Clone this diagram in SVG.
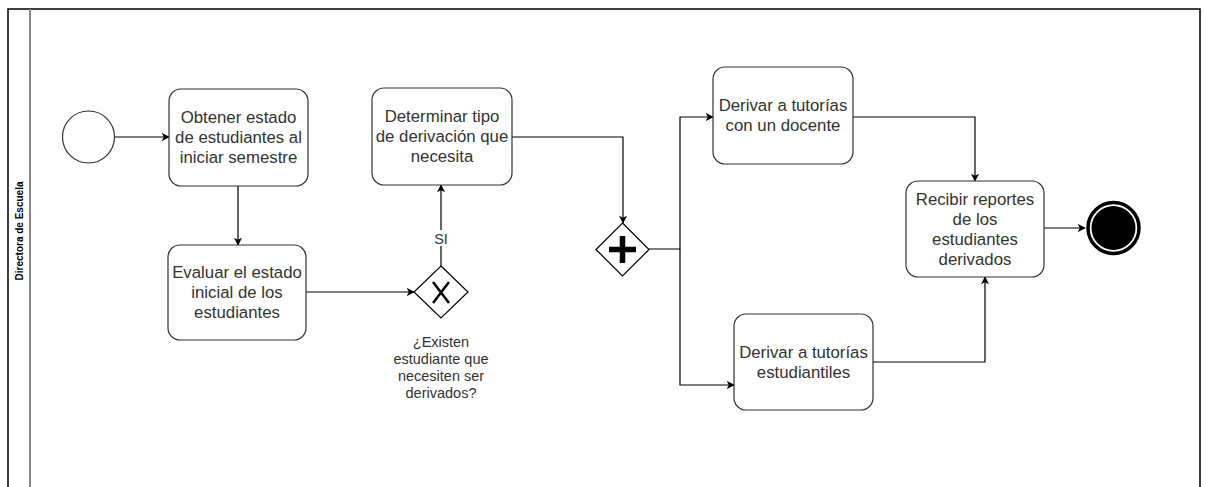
<svg xmlns="http://www.w3.org/2000/svg" width="1206" height="487" viewBox="0 0 1206 487">
<defs>
<marker id="arr" viewBox="0 0 10 10" refX="9" refY="5" markerWidth="8" markerHeight="8" markerUnits="userSpaceOnUse" orient="auto">
<path d="M0,0 L10,5 L0,10 L2.5,5 Z" fill="#000"/>
</marker>
<style>
.task{fill:#fff;stroke:#333;stroke-width:1.2}
.t{font-family:"Liberation Sans",Arial,sans-serif;font-size:16.8px;fill:#333;text-anchor:middle}
.s{font-family:"Liberation Sans",Arial,sans-serif;font-size:14.5px;fill:#333;text-anchor:middle}
.c{fill:none;stroke:#000;stroke-width:1.2;marker-end:url(#arr)}
.gw{fill:#fff;stroke:#000;stroke-width:1.2}
</style>
</defs>
<rect width="1206" height="487" fill="#fff"/>
<g id="pool">
<rect x="8" y="9" width="1192" height="500" fill="none" stroke="#000" stroke-width="1.5"/>
<line x1="30" y1="9" x2="30" y2="490" stroke="#888" stroke-width="2"/>
<text transform="translate(22.5,231) rotate(-90)" font-family="'Liberation Sans',Arial,sans-serif" font-size="10" font-weight="bold" fill="#000" text-anchor="middle">Directora de Escuela</text>
</g>
<g id="connectors">
<line class="c" x1="114.5" y1="137" x2="169" y2="137"/>
<line class="c" x1="238" y1="186" x2="238" y2="245"/>
<line class="c" x1="306" y1="292" x2="414" y2="292"/>
<line class="c" x1="441" y1="266" x2="441" y2="185"/>
<polyline class="c" points="512,137 623,137 623,223"/>
<polyline class="c" points="649,249 680,249 680,117 713,117"/>
<polyline class="c" points="680,249 680,385 734,385"/>
<polyline class="c" points="853,117 975,117 975,181"/>
<polyline class="c" points="873,362 985,362 985,277"/>
<line class="c" x1="1044" y1="228" x2="1085" y2="228"/>
<rect x="432" y="230" width="18" height="16" fill="#fff"/>
<text class="s" x="441" y="243.5" font-size="13">SI</text>
</g>
<g id="start"><circle cx="88.5" cy="137" r="26" fill="#fff" stroke="#333" stroke-width="1.2"/></g>
<g id="task1">
<rect class="task" x="169" y="89" width="139" height="97" rx="12"/>
<text class="t" x="238.5" y="123">Obtener estado</text>
<text class="t" x="238.5" y="143">de estudiantes al</text>
<text class="t" x="238.5" y="163">iniciar semestre</text>
</g>
<g id="task2">
<rect class="task" x="168" y="245" width="138" height="95" rx="12"/>
<text class="t" x="237" y="278">Evaluar el estado</text>
<text class="t" x="237" y="298">inicial de los</text>
<text class="t" x="237" y="318">estudiantes</text>
</g>
<g id="gatewayX">
<polygon class="gw" points="441,266 468,292 441,318 414,292"/>
<path d="M433,282 L449,303 M449,282 L433,303" stroke="#000" stroke-width="2.5" fill="none"/>
<text class="s" x="441" y="347">¿Existen</text>
<text class="s" x="441" y="364">estudiante que</text>
<text class="s" x="441" y="381">necesiten ser</text>
<text class="s" x="441" y="398">derivados?</text>
</g>
<g id="task3">
<rect class="task" x="372" y="88" width="140" height="97" rx="12"/>
<text class="t" x="442" y="122">Determinar tipo</text>
<text class="t" x="442" y="142">de derivación que</text>
<text class="t" x="442" y="162">necesita</text>
</g>
<g id="gatewayPlus">
<polygon class="gw" points="622.5,223 649,249.5 622.5,276 596,249.5"/>
<path d="M609,249.5 H636 M622.5,236 V263" stroke="#000" stroke-width="5.5" fill="none"/>
</g>
<g id="task4">
<rect class="task" x="713" y="67" width="140" height="97" rx="12"/>
<text class="t" x="783" y="111">Derivar a tutorías</text>
<text class="t" x="783" y="131">con un docente</text>
</g>
<g id="task5">
<rect class="task" x="734" y="314" width="139" height="96" rx="12"/>
<text class="t" x="803.5" y="358">Derivar a tutorías</text>
<text class="t" x="803.5" y="378">estudiantiles</text>
</g>
<g id="task6">
<rect class="task" x="906" y="181" width="138" height="96" rx="12"/>
<text class="t" x="975" y="205">Recibir reportes</text>
<text class="t" x="975" y="225">de los</text>
<text class="t" x="975" y="245">estudiantes</text>
<text class="t" x="975" y="265">derivados</text>
</g>
<g id="end">
<circle cx="1113.5" cy="228" r="25.5" fill="#fff" stroke="#000" stroke-width="3.5"/>
<circle cx="1113.5" cy="228" r="22" fill="#000"/>
</g>
</svg>
